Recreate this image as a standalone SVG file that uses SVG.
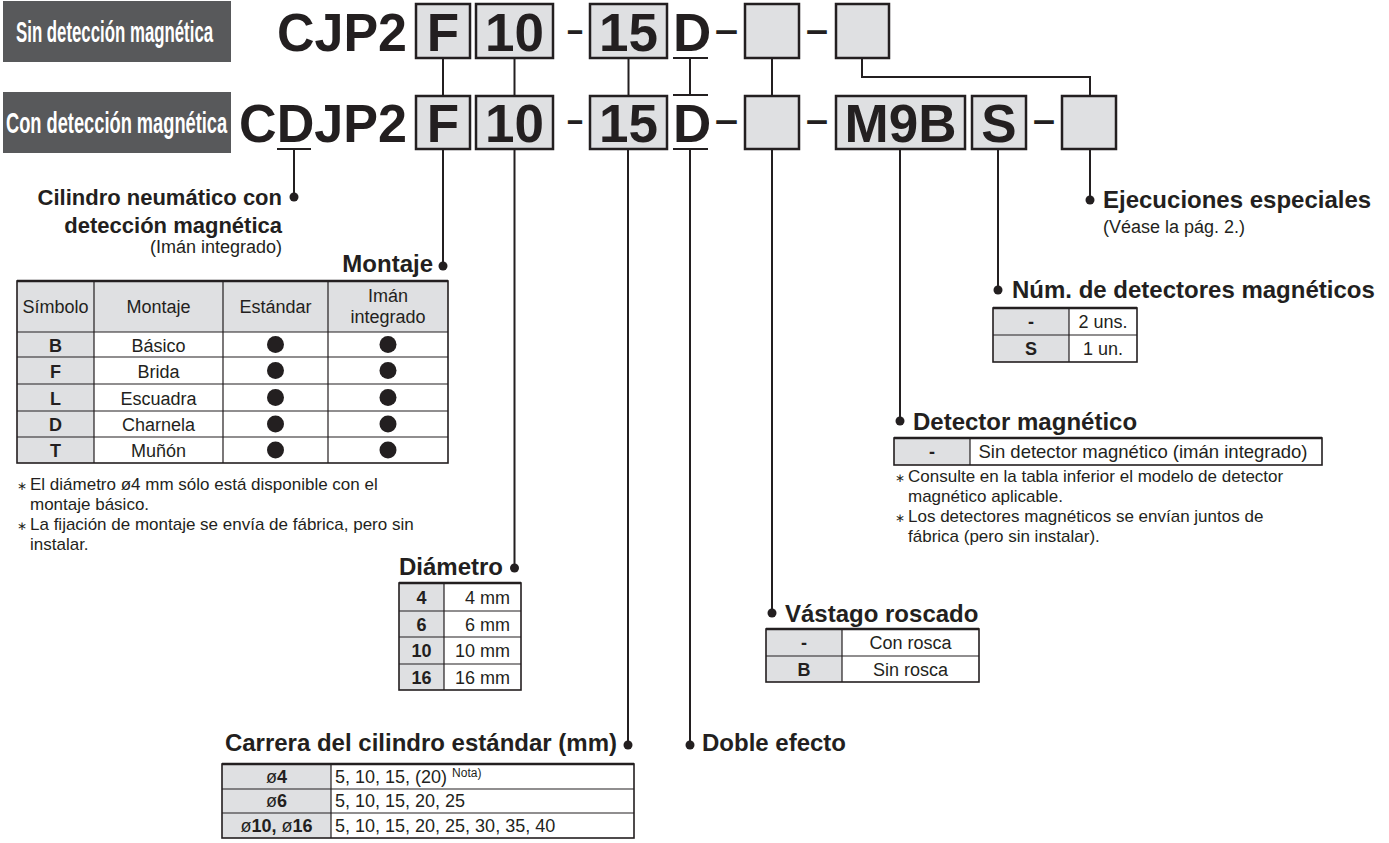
<svg xmlns="http://www.w3.org/2000/svg" width="1389" height="843" viewBox="0 0 1389 843">
<style>
text{font-family:"Liberation Sans",Arial,Helvetica,sans-serif;fill:#231f20}
.big{font-weight:bold;font-size:53px}
.dash{font-size:36px;font-weight:bold}
.lab{font-weight:bold;font-size:29px;fill:#ffffff}
.hd{font-weight:bold;font-size:24px}
.hd2{font-weight:bold;font-size:22px}
.tx{font-size:18px}
.tb{font-size:18px;font-weight:bold}
.nt{font-size:17px}
.ast{font-size:12px}
.sup{font-size:12px}
.c{text-anchor:middle}
.e{text-anchor:end}
.box{fill:#dfe0e2;stroke:#231f20;stroke-width:2.5}
.dark{fill:#58595b}
.ln{stroke:#231f20;stroke-width:2;fill:none}
.dot{fill:#231f20}
.g{fill:#dfe0e2}
.w{fill:#ffffff}
.grid{stroke:#231f20;stroke-width:1.2;fill:none}
.top{stroke:#231f20;stroke-width:2.5}
.bul{fill:#231f20}
</style>

<g id="connectors">
  <line class="ln" x1="443" y1="58" x2="443" y2="96"/>
  <line class="ln" x1="514.5" y1="58" x2="514.5" y2="96"/>
  <line class="ln" x1="628.5" y1="58" x2="628.5" y2="96"/>
  <line class="ln" x1="690" y1="58" x2="690" y2="95"/>
  <line class="ln" x1="772" y1="58" x2="772" y2="96"/>
  <polyline class="ln" points="862,58 862,77 1090,77 1090,96"/>
  <line class="ln" x1="294" y1="149" x2="294" y2="197"/>
  <line class="ln" x1="443" y1="149" x2="443" y2="266"/>
  <line class="ln" x1="514.5" y1="149" x2="514.5" y2="568"/>
  <line class="ln" x1="628" y1="149" x2="628" y2="745"/>
  <line class="ln" x1="690" y1="149" x2="690" y2="745"/>
  <line class="ln" x1="772" y1="149" x2="772" y2="613"/>
  <line class="ln" x1="900" y1="149" x2="900" y2="421"/>
  <line class="ln" x1="998" y1="149" x2="998" y2="290"/>
  <line class="ln" x1="1090" y1="149" x2="1090" y2="200"/>
  <line class="ln" x1="673" y1="58" x2="708" y2="58"/>
  <line class="ln" x1="673" y1="95" x2="708" y2="95"/>
  <line class="ln" x1="673" y1="149" x2="708" y2="149"/>
  <line class="ln" x1="277" y1="149" x2="311" y2="149"/>
  <circle class="dot" cx="294" cy="197" r="4.5"/>
  <circle class="dot" cx="443" cy="266" r="4.5"/>
  <circle class="dot" cx="514.5" cy="568" r="4.5"/>
  <circle class="dot" cx="628" cy="745" r="4.5"/>
  <circle class="dot" cx="690" cy="745" r="4.5"/>
  <circle class="dot" cx="772" cy="613" r="4.5"/>
  <circle class="dot" cx="900" cy="421" r="4.5"/>
  <circle class="dot" cx="998" cy="290" r="4.5"/>
  <circle class="dot" cx="1090" cy="200" r="4.5"/>
</g>

<g id="label-sin">
  <rect class="dark" x="3" y="1" width="228" height="61"/>
  <text class="lab" transform="translate(16,42) scale(0.58,1)" x="0" y="0">Sin detección magnética</text>
</g>
<g id="label-con">
  <rect class="dark" x="3" y="92" width="228" height="61"/>
  <text class="lab" transform="translate(6,133) scale(0.63,1)" x="0" y="0">Con detección magnética</text>
</g>

<g id="code-row1">
  <text class="big" x="277" y="51" textLength="130" lengthAdjust="spacingAndGlyphs">CJP2</text>
  <rect class="box" x="416" y="4" width="54" height="54"/>
  <text class="big c" x="443" y="51">F</text>
  <rect class="box" x="476" y="4" width="77" height="54"/>
  <text class="big c" x="514.5" y="51">10</text>
  <text class="dash" x="567" y="42" textLength="16" lengthAdjust="spacingAndGlyphs">–</text>
  <rect class="box" x="590" y="4" width="77" height="54"/>
  <text class="big c" x="628.5" y="51">15</text>
  <text class="big" x="673" y="51">D</text>
  <text class="dash" x="715" y="42" textLength="23" lengthAdjust="spacingAndGlyphs">–</text>
  <rect class="box" x="745" y="4" width="54" height="54"/>
  <text class="dash" x="806" y="42" textLength="22" lengthAdjust="spacingAndGlyphs">–</text>
  <rect class="box" x="836" y="4" width="53" height="54"/>
</g>

<g id="code-row2">
  <text class="big" x="239" y="142" textLength="168" lengthAdjust="spacingAndGlyphs">CDJP2</text>
  <rect class="box" x="416" y="96" width="54" height="53"/>
  <text class="big c" x="443" y="142">F</text>
  <rect class="box" x="476" y="96" width="77" height="53"/>
  <text class="big c" x="514.5" y="142">10</text>
  <text class="dash" x="567" y="132" textLength="16" lengthAdjust="spacingAndGlyphs">–</text>
  <rect class="box" x="590" y="96" width="77" height="53"/>
  <text class="big c" x="628.5" y="142">15</text>
  <text class="big" x="673" y="142">D</text>
  <text class="dash" x="715" y="132" textLength="23" lengthAdjust="spacingAndGlyphs">–</text>
  <rect class="box" x="745" y="96" width="54" height="53"/>
  <text class="dash" x="806" y="132" textLength="22" lengthAdjust="spacingAndGlyphs">–</text>
  <rect class="box" x="836" y="96" width="129" height="53"/>
  <text class="big c" x="900.5" y="142">M9B</text>
  <rect class="box" x="972" y="96" width="54" height="53"/>
  <text class="big c" x="999" y="142">S</text>
  <text class="dash" x="1033" y="132" textLength="22" lengthAdjust="spacingAndGlyphs">–</text>
  <rect class="box" x="1062" y="96" width="54" height="53"/>
</g>

<g id="cilindro">
  <text class="hd2 e" x="282" y="205">Cilindro neumático con</text>
  <text class="hd2 e" x="282" y="233">detección magnética</text>
  <text class="tx e" x="282" y="253">(Imán integrado)</text>
</g>

<g id="montaje">
  <text class="hd e" x="433" y="272">Montaje</text>
  <rect class="w" x="17" y="281" width="431" height="182"/>
  <rect class="g" x="17" y="281" width="431" height="51"/>
  <rect class="g" x="17" y="332" width="77" height="131"/>
  <path class="grid" d="M17 332H448M17 357H448M17 384H448M17 411H448M17 437H448M94 281V463M223 281V463M328 281V463"/>
  <rect class="grid" x="17" y="281" width="431" height="182" style="stroke-width:1.6"/>
  <line class="top" x1="17" y1="281" x2="448" y2="281"/>
  <text class="tx c" x="55.5" y="313">Símbolo</text>
  <text class="tx c" x="158.5" y="313">Montaje</text>
  <text class="tx c" x="275.5" y="313">Estándar</text>
  <text class="tx c" x="388" y="302">Imán</text>
  <text class="tx c" x="388" y="323">integrado</text>
  <text class="tb c" x="55.5" y="352">B</text>
  <text class="tx c" x="158.5" y="352">Básico</text>
  <text class="tb c" x="55.5" y="378">F</text>
  <text class="tx c" x="158.5" y="378">Brida</text>
  <text class="tb c" x="55.5" y="405">L</text>
  <text class="tx c" x="158.5" y="405">Escuadra</text>
  <text class="tb c" x="55.5" y="431">D</text>
  <text class="tx c" x="158.5" y="431">Charnela</text>
  <text class="tb c" x="55.5" y="457">T</text>
  <text class="tx c" x="158.5" y="457">Muñón</text>
  <circle class="bul" cx="275.5" cy="344.5" r="8.5"/>
  <circle class="bul" cx="388" cy="344.5" r="8.5"/>
  <circle class="bul" cx="275.5" cy="370.5" r="8.5"/>
  <circle class="bul" cx="388" cy="370.5" r="8.5"/>
  <circle class="bul" cx="275.5" cy="397.5" r="8.5"/>
  <circle class="bul" cx="388" cy="397.5" r="8.5"/>
  <circle class="bul" cx="275.5" cy="424" r="8.5"/>
  <circle class="bul" cx="388" cy="424" r="8.5"/>
  <circle class="bul" cx="275.5" cy="450" r="8.5"/>
  <circle class="bul" cx="388" cy="450" r="8.5"/>
  <text class="ast" x="17" y="490">∗</text>
  <text class="nt" x="30" y="490">El diámetro ø4 mm sólo está disponible con el</text>
  <text class="nt" x="30" y="510">montaje básico.</text>
  <text class="ast" x="17" y="530">∗</text>
  <text class="nt" x="30" y="530">La fijación de montaje se envía de fábrica, pero sin</text>
  <text class="nt" x="30" y="550">instalar.</text>
</g>

<g id="diametro">
  <text class="hd e" x="503" y="575">Diámetro</text>
  <rect class="w" x="399" y="583" width="122" height="107"/>
  <rect class="g" x="399" y="583" width="45" height="107"/>
  <path class="grid" d="M399 611H521M399 637H521M399 664H521M444 583V690"/>
  <rect class="grid" x="399" y="583" width="122" height="107" style="stroke-width:1.6"/>
  <line class="top" x1="399" y1="583" x2="521" y2="583"/>
  <text class="tb c" x="421.5" y="604">4</text>
  <text class="tx e" x="510" y="604">4 mm</text>
  <text class="tb c" x="421.5" y="631">6</text>
  <text class="tx e" x="510" y="631">6 mm</text>
  <text class="tb c" x="421.5" y="657">10</text>
  <text class="tx e" x="510" y="657">10 mm</text>
  <text class="tb c" x="421.5" y="684">16</text>
  <text class="tx e" x="510" y="684">16 mm</text>
</g>

<g id="carrera">
  <text class="hd e" x="617" y="751">Carrera del cilindro estándar (mm)</text>
  <rect class="w" x="222" y="764" width="412" height="74"/>
  <rect class="g" x="222" y="764" width="109" height="74"/>
  <path class="grid" d="M222 789H634M222 813H634M331 764V838"/>
  <rect class="grid" x="222" y="764" width="412" height="74" style="stroke-width:1.6"/>
  <line class="top" x1="222" y1="764" x2="634" y2="764"/>
  <text class="tb c" x="276.5" y="783"><tspan font-weight="normal">ø</tspan>4</text>
  <text class="tx" x="335" y="783">5, 10, 15, (20) <tspan class="sup" dy="-6">Nota)</tspan></text>
  <text class="tb c" x="276.5" y="807"><tspan font-weight="normal">ø</tspan>6</text>
  <text class="tx" x="335" y="807">5, 10, 15, 20, 25</text>
  <text class="tb c" x="276.5" y="832"><tspan font-weight="normal">ø</tspan>10, <tspan font-weight="normal">ø</tspan>16</text>
  <text class="tx" x="335" y="832">5, 10, 15, 20, 25, 30, 35, 40</text>
</g>

<g id="doble-efecto">
  <text class="hd" x="702" y="751">Doble efecto</text>
</g>

<g id="vastago">
  <text class="hd" x="785" y="622">Vástago roscado</text>
  <rect class="w" x="766" y="629" width="213" height="53"/>
  <rect class="g" x="766" y="629" width="76" height="53"/>
  <path class="grid" d="M766 656H979M842 629V682"/>
  <rect class="grid" x="766" y="629" width="213" height="53" style="stroke-width:1.6"/>
  <line class="top" x1="766" y1="629" x2="979" y2="629"/>
  <text class="tb c" x="804" y="649">-</text>
  <text class="tx c" x="910.5" y="649">Con rosca</text>
  <text class="tb c" x="804" y="676">B</text>
  <text class="tx c" x="910.5" y="676">Sin rosca</text>
</g>

<g id="detector">
  <text class="hd" x="913" y="430">Detector magnético</text>
  <rect class="w" x="894" y="438" width="428" height="27"/>
  <rect class="g" x="894" y="438" width="76" height="27"/>
  <path class="grid" d="M970 438V465"/>
  <rect class="grid" x="894" y="438" width="428" height="27" style="stroke-width:1.6"/>
  <line class="top" x1="894" y1="438" x2="1322" y2="438"/>
  <text class="tb c" x="932" y="458">-</text>
  <text class="tx c" x="1143" y="458" style="font-size:18.5px">Sin detector magnético (imán integrado)</text>
  <text class="ast" x="895" y="482">∗</text>
  <text class="nt" x="908" y="482">Consulte en la tabla inferior el modelo de detector</text>
  <text class="nt" x="908" y="502">magnético aplicable.</text>
  <text class="ast" x="895" y="522">∗</text>
  <text class="nt" x="908" y="522">Los detectores magnéticos se envían juntos de</text>
  <text class="nt" x="908" y="542">fábrica (pero sin instalar).</text>
</g>

<g id="num-detectores">
  <text class="hd" x="1012" y="298">Núm. de detectores magnéticos</text>
  <rect class="w" x="993" y="308" width="144" height="54"/>
  <rect class="g" x="993" y="308" width="76" height="54"/>
  <path class="grid" d="M993 335H1137M1069 308V362"/>
  <rect class="grid" x="993" y="308" width="144" height="54" style="stroke-width:1.6"/>
  <line class="top" x1="993" y1="308" x2="1137" y2="308"/>
  <text class="tb c" x="1031" y="328">-</text>
  <text class="tx c" x="1103" y="328">2 uns.</text>
  <text class="tb c" x="1031" y="355">S</text>
  <text class="tx c" x="1103" y="355">1 un.</text>
</g>

<g id="ejecuciones">
  <text class="hd" x="1103" y="208">Ejecuciones especiales</text>
  <text class="tx" x="1103" y="233">(Véase la pág. 2.)</text>
</g>
</svg>
